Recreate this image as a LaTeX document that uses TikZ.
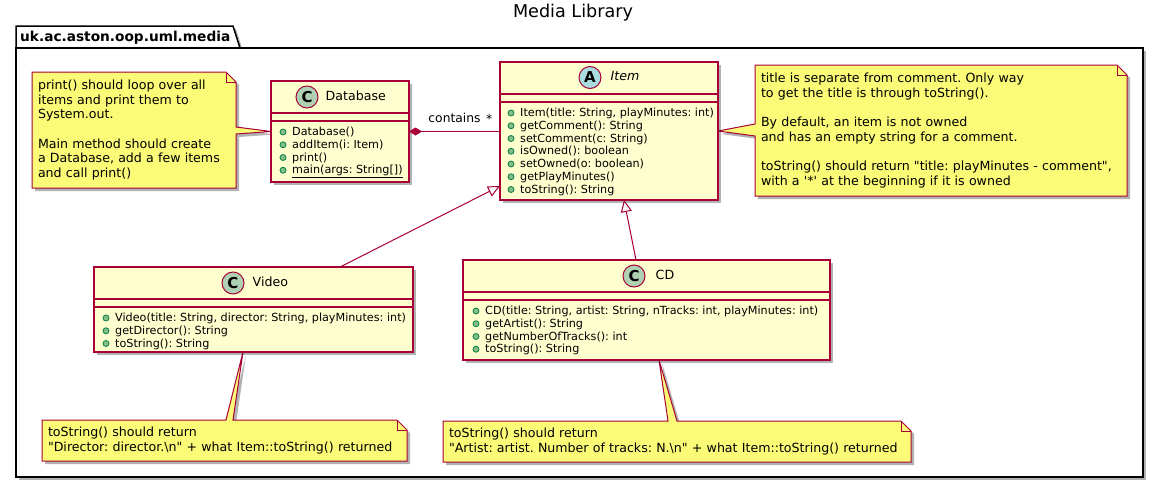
\documentclass[tikz,border=0pt]{standalone}
\usepackage{fontspec}
\setmainfont{DejaVu Sans}[Ligatures=TeXOff]
\usetikzlibrary{positioning,calc,arrows.meta,shadows}
\definecolor{umlred}{HTML}{A80036}
\definecolor{classfill}{HTML}{FEFECE}
\definecolor{notefill}{HTML}{FBFB77}
\definecolor{ciconfill}{HTML}{ADD1B2}
\definecolor{aiconfill}{HTML}{A9DCDF}
\definecolor{pubfill}{HTML}{84BE84}
\definecolor{publine}{HTML}{038048}
\pgfdeclarelayer{pkg}
\pgfdeclarelayer{notes}
\pgfsetlayers{pkg,notes,main}
\frenchspacing
\begin{document}
\frenchspacing
\begin{tikzpicture}[x=1pt,y=-1pt,
    boxshadow/.style={drop shadow={shadow xshift=3pt,shadow yshift=-3pt,opacity=.3,fill=black}},
    pkgline/.style={draw=black,fill=white,line width=1.5pt,boxshadow},
    pkgname/.style={anchor=base west,inner sep=0pt,font=\fontsize{13.7}{16}\selectfont\bfseries},
    cls/.style={draw=umlred,fill=classfill,line width=1.2pt,boxshadow,anchor=north west,inner sep=0pt,outer sep=0pt},
    icon/.style={circle,draw=umlred,line width=1pt,minimum size=22pt,inner sep=0pt,font=\fontsize{15}{15}\selectfont\bfseries},
    cname/.style={inner sep=0pt,text height=9pt,text depth=2.5pt,font=\fontsize{12.6}{14}\selectfont},
    meth/.style={inner sep=0pt,anchor=west,text height=9pt,text depth=2pt,font=\fontsize{11.2}{13}\selectfont},
    pub/.style={fill=pubfill,draw=publine,line width=.8pt},
    note/.style={anchor=north west,inner xsep=6pt,inner ysep=0pt,outer sep=0pt,align=left,font=\fontsize{12.6}{14.7}\selectfont},
    noteline/.style={draw=umlred,fill=notefill,line width=1pt,boxshadow},
    conn/.style={draw=umlred,line width=1pt},
    lbl/.style={inner sep=0pt,font=\fontsize{12.3}{14}\selectfont}]
  \useasboundingbox (0,0) rectangle (1158,482);

  % title and package
  \node[inner sep=0pt,anchor=base,font=\fontsize{17.6}{20}\selectfont] (title) at (573,17.3) {Media Library};
  \begin{pgfonlayer}{pkg}
    \draw[pkgline] (16,48) -- (16,26) -- (233,26) -- (240,48) -- cycle;
    \draw[pkgline] (16,48) rectangle (1143,477);
  \end{pgfonlayer}
  \node[pkgname] (pkg) at (20,41.5) {uk.ac.aston.oop.uml.media};

  % classes
  \node[cls,minimum width=138pt,minimum height=101pt] (db) at (271,81) {};
  \node[cls,minimum width=218pt,minimum height=138pt] (item) at (500,62) {};
  \node[cls,minimum width=319pt,minimum height=85pt] (video) at (94,267) {};
  \node[cls,minimum width=367pt,minimum height=100pt] (cd) at (463,260) {};
  \foreach \c in {db,item,video,cd}{
    \draw[umlred,line width=1.2pt] ([yshift=-32pt]\c.north west) -- ([yshift=-32pt]\c.north east);
    \draw[umlred,line width=1.2pt] ([yshift=-40pt]\c.north west) -- ([yshift=-40pt]\c.north east);
  }
  \node[icon,fill=ciconfill] (dbicon) at (307,97) {C};
  \node[cname,right=7pt of dbicon] (dbname) {Database};
  \node[icon,fill=aiconfill] (itemicon) at (590,77.5) {A};
  \node[cname,right=9pt of itemicon,font=\fontsize{12.6}{14}\selectfont\itshape] (itemname) {Item};
  \node[icon,fill=ciconfill] (videoicon) at (233,283) {C};
  \node[cname,right=8pt of videoicon] (videoname) {Video};
  \node[icon,fill=ciconfill] (cdicon) at (634,276) {C};
  \node[cname,right=10pt of cdicon] (cdname) {CD};

  % methods
  \foreach \m [count=\i] in {Database(),addItem(i: Item),print(),\underline{main(args: String[])}}{
    \filldraw[pub] ($(db.north west)+(12,{38.25+12.75*\i})$) circle (3);
    \node[meth] (db-m\i) at ($(db.north west)+(21,{38.25+12.75*\i})$) {\m};
  }
  \foreach \m [count=\i] in {{Item(title: String, playMinutes: int)},getComment(): String,setComment(c: String),isOwned(): boolean,setOwned(o: boolean),getPlayMinutes(),toString(): String}{
    \filldraw[pub] ($(item.north west)+(11,{38.25+12.75*\i})$) circle (3);
    \node[meth] (item-m\i) at ($(item.north west)+(20,{38.25+12.75*\i})$) {\m};
  }
  \foreach \m [count=\i] in {{Video(title: String, director: String, playMinutes: int)},getDirector(): String,toString(): String}{
    \filldraw[pub] ($(video.north west)+(12,{38.25+12.75*\i})$) circle (3);
    \node[meth] (video-m\i) at ($(video.north west)+(21,{38.25+12.75*\i})$) {\m};
  }
  \foreach \m [count=\i] in {{CD(title: String, artist: String, nTracks: int, playMinutes: int)},getArtist(): String,getNumberOfTracks(): int,toString(): String}{
    \filldraw[pub] ($(cd.north west)+(13,{38.25+12.75*\i})$) circle (3);
    \node[meth] (cd-m\i) at ($(cd.north west)+(22,{38.25+12.75*\i})$) {\m};
  }

  % relations
  \begin{scope}[conn]
    \draw[{Diamond[length=13pt,width=8pt]}-] (db.east) -- (db.east -| item.west)
      node[lbl,midway,above=8pt] (contains) {contains}
      node[lbl,pos=.88,above=8pt] (many) {*};
    \draw[-{Triangle[length=12pt,width=11pt,fill=white]}] ([xshift=86.5pt]video.north) -- ([yshift=-55pt]item.west);
    \draw[-{Triangle[length=12pt,width=11pt,fill=white]}] ([xshift=-10.5pt]cd.north) -- ([xshift=15pt]item.south);
  \end{scope}

  % notes
  \node[note,minimum width=204pt,minimum height=116pt,text width=192pt] (dbn) at (32,72)
    {print() should loop over all\\items and print them to\\System.out.\\[\baselineskip]Main method should create\\a Database, add a few items\\and call print()};
  \node[note,minimum width=372pt,minimum height=131pt,text width=360pt] (itn) at (755,65)
    {title is separate from comment. Only way\\to get the title is through toString().\\[\baselineskip]By default, an item is not owned\\and has an empty string for a comment.\\[\baselineskip]toString() should return "title: playMinutes - comment",\\with a '*' at the beginning if it is owned};
  \node[note,minimum width=365pt,minimum height=41pt,text width=353pt] (vn) at (42,420)
    {toString() should return\\"Director: director.\textbackslash n" + what Item::toString() returned};
  \node[note,minimum width=468pt,minimum height=41pt,text width=456pt] (cdn) at (443,421)
    {toString() should return\\"Artist: artist. Number of tracks: N.\textbackslash n" + what Item::toString() returned};
  \begin{pgfonlayer}{notes}
    \draw[noteline] (dbn.north west) -- ([xshift=-10pt]dbn.north east) -- ([yshift=-10pt]dbn.north east)
      -- ([yshift=3pt]dbn.east) -- (db.west) -- ([yshift=-4pt]dbn.east) -- (dbn.south east) -- (dbn.south west) -- cycle;
    \draw[noteline] (itn.north west) -- ([xshift=-10pt]itn.north east) -- ([yshift=-10pt]itn.north east)
      -- (itn.south east) -- (itn.south west) -- ([yshift=-5.5pt]itn.west) -- (item.east) -- ([yshift=6.5pt]itn.west) -- cycle;
    \draw[noteline] (vn.north west) -- ([xshift=1.5pt]vn.north) -- ([xshift=-10.5pt]video.south) -- ([xshift=8.5pt]vn.north)
      -- ([xshift=-10pt]vn.north east) -- ([yshift=-10pt]vn.north east) -- (vn.south east) -- (vn.south west) -- cycle;
    \draw[noteline] (cdn.north west) -- ([xshift=-9pt]cdn.north) -- ([xshift=12.5pt]cd.south) -- (cdn.north)
      -- ([xshift=-10pt]cdn.north east) -- ([yshift=-10pt]cdn.north east) -- (cdn.south east) -- (cdn.south west) -- cycle;
    \foreach \n in {dbn,itn,vn,cdn}
      \draw[umlred,line width=1pt] ([xshift=-10pt]\n.north east) -- ([xshift=-10pt,yshift=-10pt]\n.north east) -- ([yshift=-10pt]\n.north east);
  \end{pgfonlayer}
\end{tikzpicture}
\end{document}
